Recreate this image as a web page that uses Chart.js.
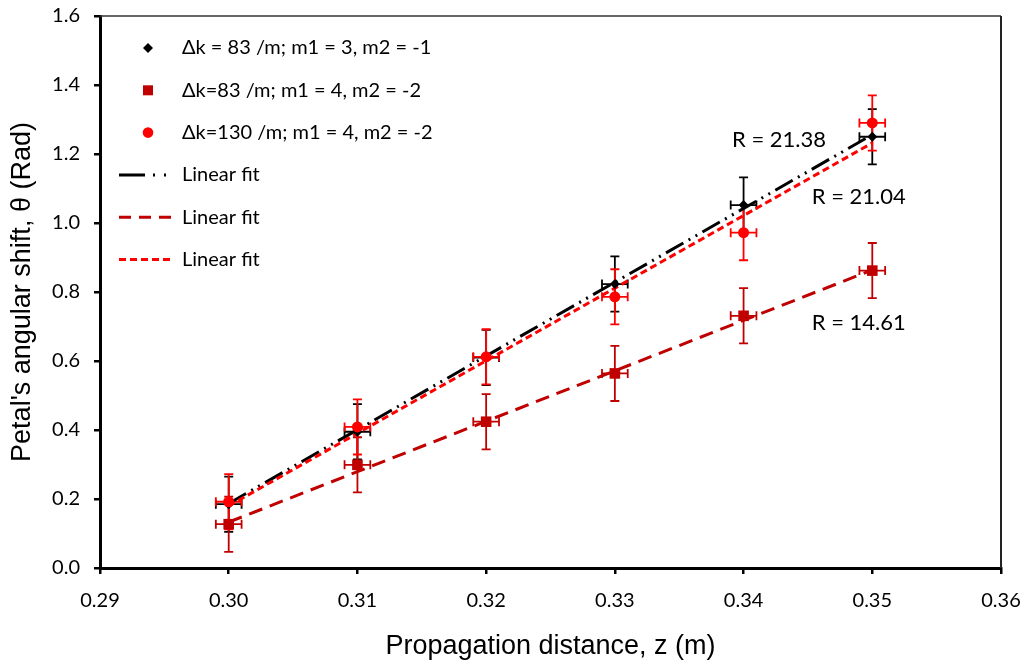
<!DOCTYPE html>
<html>
<head>
<meta charset="utf-8">
<script src="https://cdn.jsdelivr.net/npm/chart.js@4.4.1/dist/chart.umd.min.js"></script>
<style>
  html, body { margin: 0; padding: 0; background: #fff; }
  #wrap { width: 1027px; height: 664px; }
</style>
</head>
<body>
<div id="wrap"><canvas id="chart"></canvas></div>
<script>
// Measured points, z (m) vs theta (rad)
const zValues   = [0.30, 0.31, 0.32, 0.33, 0.34, 0.35];
const thetaM3   = [0.185, 0.395, 0.61, 0.823, 1.052, 1.25];   // dk = 83 /m, m1 = 3, m2 = -1
const thetaM4   = [0.127, 0.299, 0.424, 0.564, 0.731, 0.862]; // dk = 83 /m, m1 = 4, m2 = -2
const thetaK130 = [0.192, 0.409, 0.612, 0.786, 0.972, 1.29];  // dk = 130 /m, m1 = 4, m2 = -2
const zErr = 0.001;
const thetaErr = 0.08;

// Linear fits (end points)
const fitZ     = [0.30, 0.35];
const fitM3    = [0.187, 1.256];
const fitM4    = [0.133, 0.864];
const fitK130  = [0.18, 1.232];

// Slope annotations
const rLabels = ['R = 21.38', 'R = 21.04', 'R = 14.61'];
const rZ      = [0.3391, 0.3453, 0.3453];
const rTheta  = [1.24, 1.075, 0.71];

const xTickValues = [0.29, 0.30, 0.31, 0.32, 0.33, 0.34, 0.35, 0.36];
const yTickValues = [0, 0.2, 0.4, 0.6, 0.8, 1.0, 1.2, 1.4, 1.6];

const legendLabels = [
  'Δk = 83 /m; m1 = 3, m2 = -1',
  'Δk=83 /m; m1 = 4, m2 = -2',
  'Δk=130 /m; m1 = 4, m2 = -2',
  'Linear fit',
  'Linear fit',
  'Linear fit'
];

const BLACK = '#000000';
const DARKRED = '#C00000';
const RED = '#FF0000';

const pts = (xs, ys) => xs.map((x, i) => ({ x, y: ys[i] }));

const errorBars = {
  id: 'errorBars',
  beforeDatasetsDraw(chart) {
    const { ctx, scales: { x, y } } = chart;
    const cap = 4.5;
    chart.data.datasets.forEach((ds) => {
      if (!ds.errColor) return;
      ctx.save();
      ctx.strokeStyle = ds.errColor;
      ctx.lineWidth = 1.8;
      ds.data.forEach((p) => {
        const px = x.getPixelForValue(p.x);
        const py = y.getPixelForValue(p.y);
        const x0 = x.getPixelForValue(p.x - zErr);
        const x1 = x.getPixelForValue(p.x + zErr);
        const y0 = y.getPixelForValue(p.y - thetaErr);
        const y1 = y.getPixelForValue(p.y + thetaErr);
        ctx.beginPath();
        ctx.moveTo(px, y0); ctx.lineTo(px, y1);
        ctx.moveTo(px - cap, y0); ctx.lineTo(px + cap, y0);
        ctx.moveTo(px - cap, y1); ctx.lineTo(px + cap, y1);
        ctx.moveTo(x0, py); ctx.lineTo(x1, py);
        ctx.moveTo(x0, py - cap); ctx.lineTo(x0, py + cap);
        ctx.moveTo(x1, py - cap); ctx.lineTo(x1, py + cap);
        ctx.stroke();
      });
      ctx.restore();
    });
  }
};

const decorations = {
  id: 'decorations',
  afterDraw(chart) {
    const { ctx, chartArea: ca, scales: { x, y } } = chart;
    ctx.save();

    // plot frame top / right
    ctx.strokeStyle = '#333';
    ctx.lineWidth = 1.5;
    ctx.beginPath();
    ctx.moveTo(ca.left, ca.top); ctx.lineTo(ca.right, ca.top);
    ctx.stroke();
    ctx.lineWidth = 2;
    ctx.strokeStyle = '#222';
    ctx.beginPath();
    ctx.moveTo(ca.right, ca.top); ctx.lineTo(ca.right, ca.bottom);
    ctx.stroke();

    // R annotations
    ctx.fillStyle = '#000';
    ctx.font = '22px Lato';
    ctx.textAlign = 'left';
    ctx.textBaseline = 'middle';
    rLabels.forEach((t, i) => {
      ctx.fillText(t, x.getPixelForValue(rZ[i]), y.getPixelForValue(rTheta[i]));
    });

    // legend
    const mx = ca.left + 48;
    const tx = ca.left + 82;
    const rowY = (i) => ca.top + 32 + i * 42.3;
    ctx.font = '20px Lato';
    legendLabels.forEach((t, i) => {
      ctx.fillStyle = '#000';
      ctx.fillText(t, tx, rowY(i));
    });
    // markers
    let cy = rowY(0);
    ctx.fillStyle = BLACK;
    ctx.beginPath();
    ctx.moveTo(mx, cy - 5); ctx.lineTo(mx + 5, cy); ctx.lineTo(mx, cy + 5); ctx.lineTo(mx - 5, cy);
    ctx.closePath(); ctx.fill();
    cy = rowY(1);
    ctx.fillStyle = DARKRED;
    ctx.fillRect(mx - 5, cy - 5, 10, 10);
    cy = rowY(2);
    ctx.fillStyle = RED;
    ctx.beginPath(); ctx.arc(mx, cy, 5.3, 0, Math.PI * 2); ctx.fill();
    // line samples
    const lx0 = ca.left + 19, lx1 = ca.left + 73;
    const samples = [
      { c: BLACK, dash: [26, 8, 2, 9, 2, 20] },
      { c: DARKRED, dash: [12, 8] },
      { c: RED, dash: [7, 4] }
    ];
    samples.forEach((s, i) => {
      const yy = rowY(3 + i);
      ctx.strokeStyle = s.c;
      ctx.lineWidth = 3;
      ctx.setLineDash(s.dash);
      ctx.beginPath(); ctx.moveTo(lx0, yy); ctx.lineTo(lx1, yy); ctx.stroke();
    });
    ctx.setLineDash([]);
    ctx.restore();
  }
};

new Chart(document.getElementById('chart'), {
  type: 'scatter',
  data: {
    datasets: [
      {
        label: legendLabels[0],
        data: pts(zValues, thetaM3),
        errColor: BLACK,
        pointStyle: 'rectRot',
        pointRadius: 5,
        backgroundColor: BLACK,
        borderColor: BLACK,
        borderWidth: 0,
        order: 2
      },
      {
        label: legendLabels[1],
        data: pts(zValues, thetaM4),
        errColor: DARKRED,
        pointStyle: 'rect',
        pointRadius: 7.5,
        backgroundColor: DARKRED,
        borderColor: DARKRED,
        borderWidth: 0,
        order: 3
      },
      {
        label: legendLabels[2],
        data: pts(zValues, thetaK130),
        errColor: RED,
        pointStyle: 'circle',
        pointRadius: 5.5,
        backgroundColor: RED,
        borderColor: RED,
        borderWidth: 0,
        order: 1
      },
      {
        label: legendLabels[3],
        type: 'line',
        data: pts(fitZ, fitM3),
        showLine: true,
        pointRadius: 0,
        borderColor: BLACK,
        borderWidth: 3,
        borderDash: [20, 6, 2, 6, 2, 6],
        order: 6
      },
      {
        label: legendLabels[4],
        type: 'line',
        data: pts(fitZ, fitM4),
        showLine: true,
        pointRadius: 0,
        borderColor: DARKRED,
        borderWidth: 3,
        borderDash: [14, 8],
        order: 5
      },
      {
        label: legendLabels[5],
        type: 'line',
        data: pts(fitZ, fitK130),
        showLine: true,
        pointRadius: 0,
        borderColor: RED,
        borderWidth: 3,
        borderDash: [7, 4],
        order: 4
      }
    ]
  },
  options: {
    responsive: true,
    maintainAspectRatio: false,
    animation: false,
    layout: { padding: { top: 16, right: 26, left: 0, bottom: 0 } },
    plugins: {
      legend: { display: false },
      tooltip: { enabled: false }
    },
    scales: {
      x: {
        type: 'linear',
        min: 0.29,
        max: 0.36,
        afterBuildTicks: (s) => { s.ticks = xTickValues.map(v => ({ value: v })); },
        afterFit: (s) => { s.height = 96; s.paddingLeft = 0; s.paddingRight = 0; },
        ticks: {
          color: '#000',
          font: { family: 'Lato', size: 20 },
          padding: 15,
          callback: (v) => v.toFixed(2)
        },
        grid: { drawOnChartArea: false, drawTicks: true, tickLength: 6, color: '#000', lineWidth: 2.5 },
        border: { color: '#000', width: 3 },
        title: {
          display: true,
          text: 'Propagation distance, z (m)',
          color: '#000',
          font: { family: 'Liberation Sans', size: 27 },
          padding: { top: 0, bottom: 1 }
        }
      },
      y: {
        type: 'linear',
        min: 0,
        max: 1.6,
        afterBuildTicks: (s) => { s.ticks = yTickValues.map(v => ({ value: v })); },
        afterFit: (s) => { s.width = 100; s.paddingTop = 0; s.paddingBottom = 0; },
        ticks: {
          color: '#000',
          font: { family: 'Lato', size: 20 },
          padding: 14,
          callback: (v) => v.toFixed(1)
        },
        grid: { drawOnChartArea: false, drawTicks: true, tickLength: 6, color: '#000', lineWidth: 2.5 },
        border: { color: '#000', width: 3 },
        title: {
          display: true,
          text: "Petal's angular shift, θ (Rad)",
          color: '#000',
          font: { family: 'Liberation Sans', size: 27 },
          padding: { top: 6, bottom: 0 }
        }
      }
    }
  },
  plugins: [errorBars, decorations]
});
</script>
</body>
</html>
